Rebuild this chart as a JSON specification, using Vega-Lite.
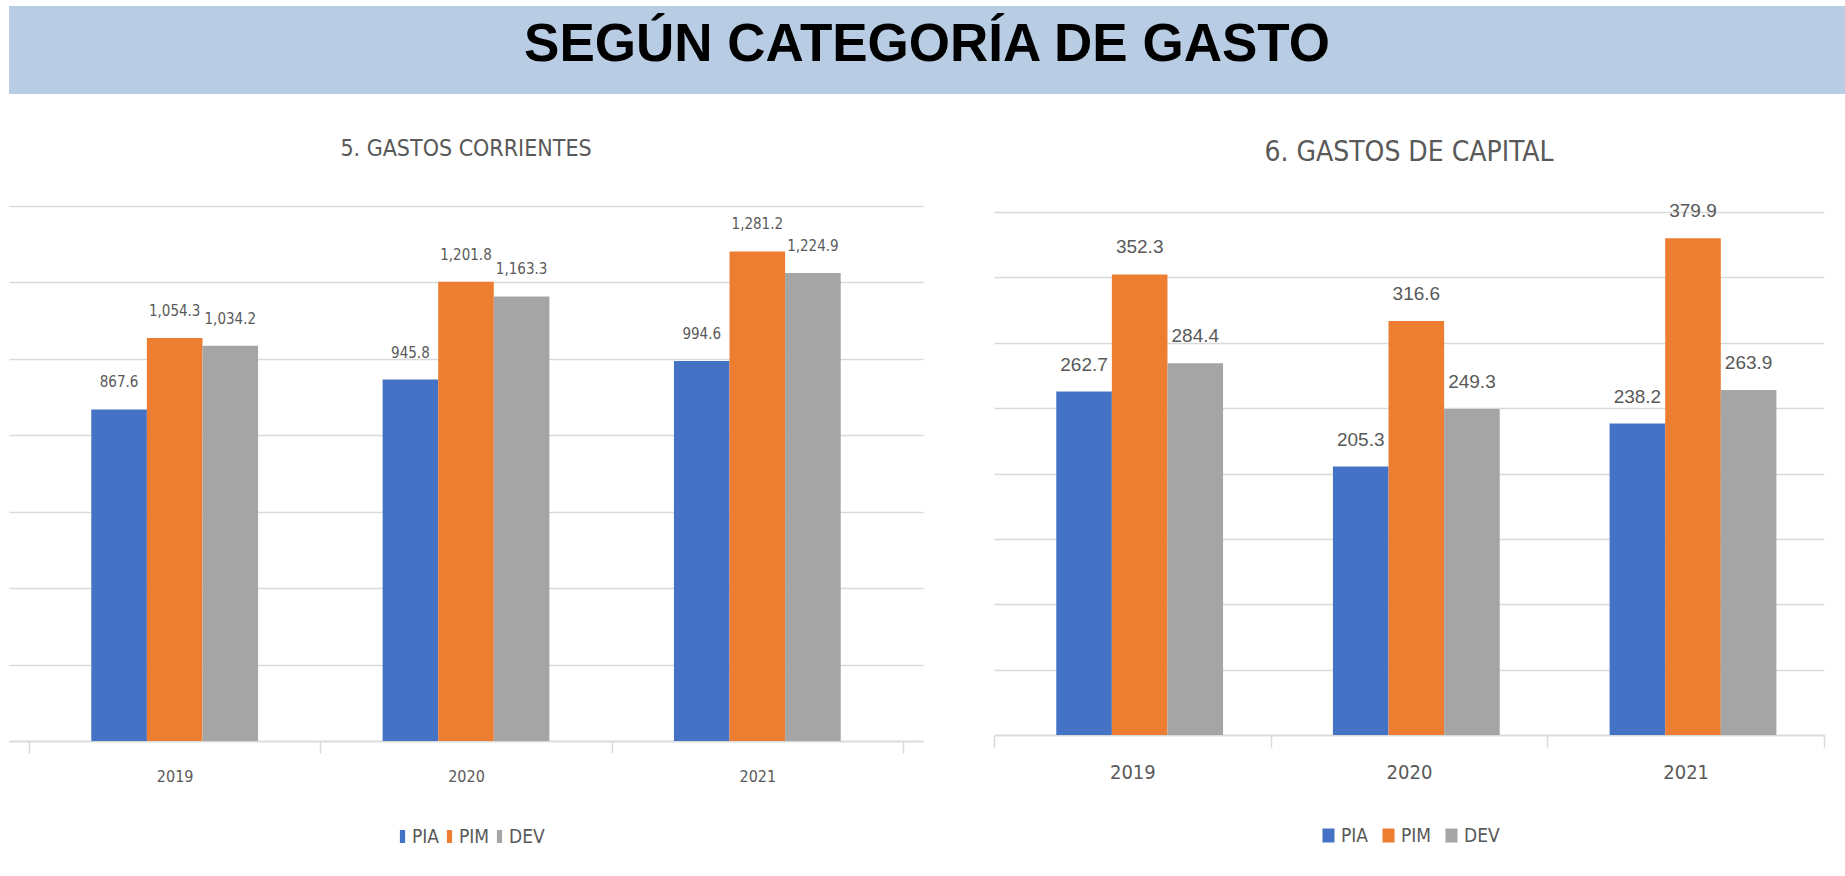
{
  "$schema": "https://vega.github.io/schema/vega-lite/v6.json",
  "padding": {"left": 9, "top": 6, "right": 0, "bottom": 0},
  "background": "white",
  "config": {"view": {"stroke": null}},
  "datasets": {
    "gastos": [
      {"panel": "corrientes", "year": "2019", "serie": "PIA", "value": 867.6},
      {"panel": "corrientes", "year": "2019", "serie": "PIM", "value": 1054.3},
      {"panel": "corrientes", "year": "2019", "serie": "DEV", "value": 1034.2},
      {"panel": "corrientes", "year": "2020", "serie": "PIA", "value": 945.8},
      {"panel": "corrientes", "year": "2020", "serie": "PIM", "value": 1201.8},
      {"panel": "corrientes", "year": "2020", "serie": "DEV", "value": 1163.3},
      {"panel": "corrientes", "year": "2021", "serie": "PIA", "value": 994.6},
      {"panel": "corrientes", "year": "2021", "serie": "PIM", "value": 1281.2},
      {"panel": "corrientes", "year": "2021", "serie": "DEV", "value": 1224.9},
      {"panel": "capital", "year": "2019", "serie": "PIA", "value": 262.7},
      {"panel": "capital", "year": "2019", "serie": "PIM", "value": 352.3},
      {"panel": "capital", "year": "2019", "serie": "DEV", "value": 284.4},
      {"panel": "capital", "year": "2020", "serie": "PIA", "value": 205.3},
      {"panel": "capital", "year": "2020", "serie": "PIM", "value": 316.6},
      {"panel": "capital", "year": "2020", "serie": "DEV", "value": 249.3},
      {"panel": "capital", "year": "2021", "serie": "PIA", "value": 238.2},
      {"panel": "capital", "year": "2021", "serie": "PIM", "value": 379.9},
      {"panel": "capital", "year": "2021", "serie": "DEV", "value": 263.9}
    ]
  },
  "spacing": 44,
  "resolve": {"scale": {"color": "independent"}, "legend": {"color": "independent"}},
  "vconcat": [
    {
      "width": 1836,
      "height": 88,
      "view": {"fill": "#B8CCE4", "stroke": null},
      "data": {"values": [{"t": "SEGÚN CATEGORÍA DE GASTO"}]},
      "mark": {"type": "text", "font": "Liberation Sans, Arial", "fontSize": 53, "fontWeight": "bold", "color": "#000000", "baseline": "alphabetic", "dy": 11},
      "encoding": {"text": {"field": "t"}}
    },
    {
      "spacing": 51,
      "resolve": {"scale": {"color": "independent"}, "legend": {"color": "independent"}},
      "hconcat": [
        {
          "width": 914,
          "height": 535,
          "title": {"text": "5. GASTOS CORRIENTES", "font": "DejaVu Sans Condensed, Liberation Sans", "fontSize": 23, "fontWeight": "normal", "color": "#595959", "offset": 45},
          "data": {"name": "gastos"},
          "transform": [{"filter": "datum.panel === 'corrientes'"}],
          "encoding": {
            "x": {"field": "year", "type": "nominal", "scale": {"paddingInner": 0, "paddingOuter": 0.0687},
              "axis": {"title": null, "labelAngle": 0, "tickBand": "extent", "domainColor": "#D9D9D9", "domainWidth": 1.5, "tickColor": "#D9D9D9", "tickWidth": 1.5, "tickSize": 12, "labelPadding": 15, "labelFont": "DejaVu Sans Condensed, Liberation Sans", "labelFontSize": 16, "labelColor": "#595959", "grid": false}},
            "xOffset": {"field": "serie", "type": "nominal", "scale": {"domain": ["L", "PIA", "PIM", "DEV", "R"], "paddingInner": 0, "paddingOuter": 0.12}},
            "y": {"field": "value", "type": "quantitative", "scale": {"domain": [0, 1400], "nice": false},
              "axis": {"title": null, "values": [0, 200, 400, 600, 800, 1000, 1200, 1400], "labels": false, "ticks": false, "domain": false, "grid": true, "gridColor": "#D9D9D9", "gridWidth": 1.5, "minExtent": 0, "maxExtent": 0}}
          },
          "layer": [
            {
              "mark": {"type": "bar"},
              "encoding": {
                "color": {"field": "serie", "type": "nominal", "sort": ["PIA", "PIM", "DEV"],
                  "scale": {"domain": ["PIA", "PIM", "DEV"], "range": ["#4472C4", "#ED7D31", "#A5A5A5"]},
                  "legend": {"title": null, "orient": "none", "legendX": 384, "legendY": 621, "direction": "horizontal", "gridAlign": "none", "symbolType": "M-0.4,-1H0.4V1H-0.4Z", "symbolSize": 169, "symbolStrokeWidth": 0, "labelFont": "DejaVu Sans Condensed, Liberation Sans", "labelFontSize": 19, "labelColor": "#595959", "labelOffset": 0, "columnPadding": 0, "padding": 0}}
              }
            },
            {
              "mark": {"type": "text", "baseline": "alphabetic", "dy": -22, "font": "DejaVu Sans Condensed, Liberation Sans", "fontSize": 15, "color": "#595959"},
              "encoding": {"text": {"field": "value", "type": "quantitative", "format": ",.1f"}}
            }
          ]
        },
        {
          "width": 830,
          "height": 529,
          "title": {"text": "6. GASTOS DE CAPITAL", "font": "DejaVu Sans Condensed, Liberation Sans", "fontSize": 28, "fontWeight": "normal", "color": "#595959", "offset": 35},
          "data": {"name": "gastos"},
          "transform": [{"filter": "datum.panel === 'capital'"}],
          "encoding": {
            "x": {"field": "year", "type": "nominal", "scale": {"paddingInner": 0, "paddingOuter": 0},
              "axis": {"title": null, "labelAngle": 0, "tickBand": "extent", "domainColor": "#D9D9D9", "domainWidth": 1.5, "tickColor": "#D9D9D9", "tickWidth": 1.5, "tickSize": 12, "labelPadding": 15, "labelFont": "DejaVu Sans Condensed, Liberation Sans", "labelFontSize": 20, "labelColor": "#595959", "grid": false}},
            "xOffset": {"field": "serie", "type": "nominal", "scale": {"domain": ["L", "PIA", "PIM", "DEV", "R"], "paddingInner": 0, "paddingOuter": 0.095}},
            "y": {"field": "value", "type": "quantitative", "scale": {"domain": [0, 404.6], "nice": false},
              "axis": {"title": null, "values": [0, 50, 100, 150, 200, 250, 300, 350, 400], "labels": false, "ticks": false, "domain": false, "grid": true, "gridColor": "#D9D9D9", "gridWidth": 1.5, "minExtent": 20, "maxExtent": 20}}
          },
          "layer": [
            {
              "mark": {"type": "bar"},
              "encoding": {
                "color": {"field": "serie", "type": "nominal", "sort": ["PIA", "PIM", "DEV"],
                  "scale": {"domain": ["PIA", "PIM", "DEV"], "range": ["#4472C4", "#ED7D31", "#A5A5A5"]},
                  "legend": {"title": null, "orient": "none", "legendX": 325, "legendY": 620, "direction": "horizontal", "gridAlign": "none", "symbolType": "M-0.86,-1H0.86V1H-0.86Z", "symbolSize": 196, "symbolStrokeWidth": 0, "labelFont": "DejaVu Sans Condensed, Liberation Sans", "labelFontSize": 19, "labelColor": "#595959", "labelOffset": 3, "columnPadding": 10, "padding": 0}}
              }
            },
            {
              "mark": {"type": "text", "baseline": "alphabetic", "dy": -21, "font": "Liberation Sans, Arial", "fontSize": 19, "color": "#595959"},
              "encoding": {"text": {"field": "value", "type": "quantitative", "format": ",.1f"}}
            }
          ]
        }
      ]
    }
  ]
}
